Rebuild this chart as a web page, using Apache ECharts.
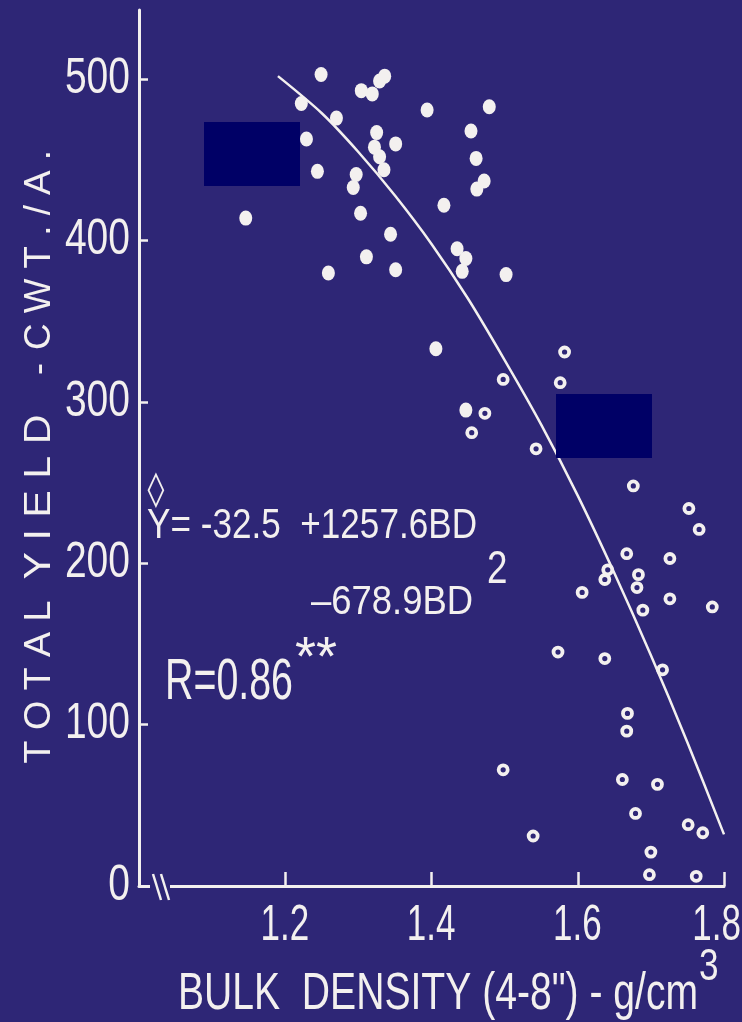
<!DOCTYPE html>
<html><head><meta charset="utf-8">
<script src="https://cdn.jsdelivr.net/npm/echarts@6/dist/echarts.min.js"></script>
<style>html,body{margin:0;padding:0;background:#2e2676;}#c{width:742px;height:1022px;}</style>
</head><body><div id="c"></div>
<script>
// Filled dots
const filledBD = [1.146,1.249,1.222,1.270,1.229,1.244,1.297,1.293,1.304,1.319,1.329,1.336,1.259,1.303,1.325,1.322,1.329,1.335,1.351,1.394,1.479,1.454,1.461,1.462,1.472,1.417,1.344,1.311,1.351,1.435,1.447,1.442,1.502,1.406,1.447];
const filledYield = [414,503,485,476,463,443,441,433,493,491,499,502,380,417,467,458,452,444,460,481,483,468,451,432,437,422,404,390,382,395,389,381,379,333,295];
// Open circles
const openBD = [1.498,1.473,1.455,1.543,1.582,1.576,1.676,1.752,1.766,1.667,1.726,1.641,1.637,1.683,1.681,1.606,1.689,1.726,1.784,1.573,1.637,1.716,1.668,1.667,1.498,1.661,1.709,1.679,1.751,1.771,1.539,1.700,1.698,1.762];
const openYield = [314,293,281,271,331,312,248,234,221,206,203,196,190,193,185,182,171,178,173,145,141,134,107,96,72,66,63,45,38,33,31,21,7,6];
// Fitted curve
const curveBD = [1.19,1.25,1.30,1.35,1.40,1.45,1.50,1.55,1.60,1.65,1.70,1.75,1.80];
const curveYield = [502,479,455,428,398,364,326,286,242,194,143,89,32];
// Tick labels
const yTicks = [0,100,200,300,400,500];
const xTicks = [1.2,1.4,1.6,1.8];
const yTickLabels = ['0','100','200','300','400','500'];
const xTickLabels = ['1.2','1.4','1.6','1.8'];

const W = '#f3f0ef';
const BG = '#2e2676';
const REG = '"Liberation Sans", Arial, sans-serif';

const mctx = document.createElement('canvas').getContext('2d');
function fit(text, font, target){ mctx.font = font; return target / mctx.measureText(text).width; }
function txt(text, x, y, size, opts){
  opts = opts || {};
  const font = size + 'px ' + (opts.family || REG);
  const align = opts.align || 'left';
  const el = {type:'text', z:70, x:x, y:y,
    style:{text:text, fill:W, font:font, align:align, verticalAlign:'middle', textAlign:align, textVerticalAlign:'middle'}};
  let s = opts.scale || 1;
  if (opts.width) s = fit(text, font, opts.width);
  el.scaleX = s;
  if (opts.rotation) el.rotation = opts.rotation;
  return el;
}

const chart = echarts.init(document.getElementById('c'), null, {renderer:'canvas'});
const zip = (a,b) => a.map((v,i)=>[v,b[i]]);

chart.setOption({
  backgroundColor: BG,
  animation: false,
  grid: {left:139, right:18, top:10, bottom:136},
  xAxis: {
    type:'value', min:1.0, max:1.8, interval:0.2,
    axisLine:{show:true, onZero:false, lineStyle:{color:W, width:3}},
    axisTick:{show:true, inside:true, length:14, customValues:xTicks, lineStyle:{color:W, width:2.5}},
    axisLabel:{show:false},
    splitLine:{show:false}
  },
  yAxis: {
    type:'value', min:0, max:543,
    axisLine:{show:true, onZero:false, lineStyle:{color:W, width:3}},
    axisTick:{show:true, inside:true, length:9, customValues:yTicks, lineStyle:{color:W, width:2.5}},
    axisLabel:{show:false},
    splitLine:{show:false}
  },
  series: [
    {type:'line', data: zip(curveBD, curveYield), smooth:0.3, showSymbol:false, symbol:'none',
     lineStyle:{color:W, width:2.5}, z:2},
    {type:'scatter', data: zip(filledBD, filledYield), symbol:'circle', symbolSize:[13,15],
     itemStyle:{color:W, opacity:1}, z:3},
    {type:'scatter', data: zip(openBD, openYield), symbol:'circle', symbolSize:9,
     itemStyle:{color:BG, borderColor:W, borderWidth:3.8, opacity:1}, z:3}
  ]
});

const g = [
  // axis break
  {type:'rect', z:50, shape:{x:150, y:880, width:20, height:12}, style:{fill:BG}},
  {type:'line', z:51, shape:{x1:153, y1:874, x2:161, y2:900}, style:{stroke:W, lineWidth:2.5}},
  {type:'line', z:51, shape:{x1:161, y1:874, x2:169, y2:900}, style:{stroke:W, lineWidth:2.5}},
  // masking rectangles
  {type:'rect', z:60, shape:{x:204, y:122, width:96, height:64}, style:{fill:'#000066'}},
  {type:'rect', z:60, shape:{x:556, y:394, width:96, height:64}, style:{fill:'#000066'}},
  // equation
  txt('\u25CA', 156, 491, 34, {family:'"DejaVu Sans"', align:'center'}),
  txt('Y= -32.5  +1257.6BD', 147, 526, 42, {width:330}),
  txt('\u2013678.9BD', 311, 603, 41, {width:162}),
  txt('2', 487, 570, 46, {scale:0.8}),
  txt('R=0.86', 165, 683, 58, {width:128}),
  txt('**', 295, 660, 56, {width:42}),
  // y axis title
  txt('T O T A L', 40, 682, 36, {align:'center', rotation:Math.PI/2, width:163}),
  txt('Y I E L D', 40, 497, 36, {align:'center', rotation:Math.PI/2, width:165}),
  txt('-', 40, 369, 36, {align:'center', rotation:Math.PI/2}),
  txt('C W T . / A .', 40, 250, 36, {align:'center', rotation:Math.PI/2, width:200}),
  // x axis title
  txt('BULK  DENSITY (4-8") - g/cm', 178, 995, 52, {width:520}),
  txt('3', 699, 968, 44, {scale:0.8})
];
// tick labels placed with the axis scales
yTicks.forEach((v,i) => {
  const p = chart.convertToPixel({gridIndex:0}, [1.0, v]);
  g.push(txt(yTickLabels[i], p[0]-9, p[1], 50, {align:'right', scale:0.78}));
});
xTicks.forEach((v,i) => {
  const p = chart.convertToPixel({gridIndex:0}, [v, 0]);
  g.push(txt(xTickLabels[i], Math.min(p[0]+24, 741), 926, 50, {align:'right', scale:0.7}));
});
chart.setOption({graphic: g});
</script></body></html>
